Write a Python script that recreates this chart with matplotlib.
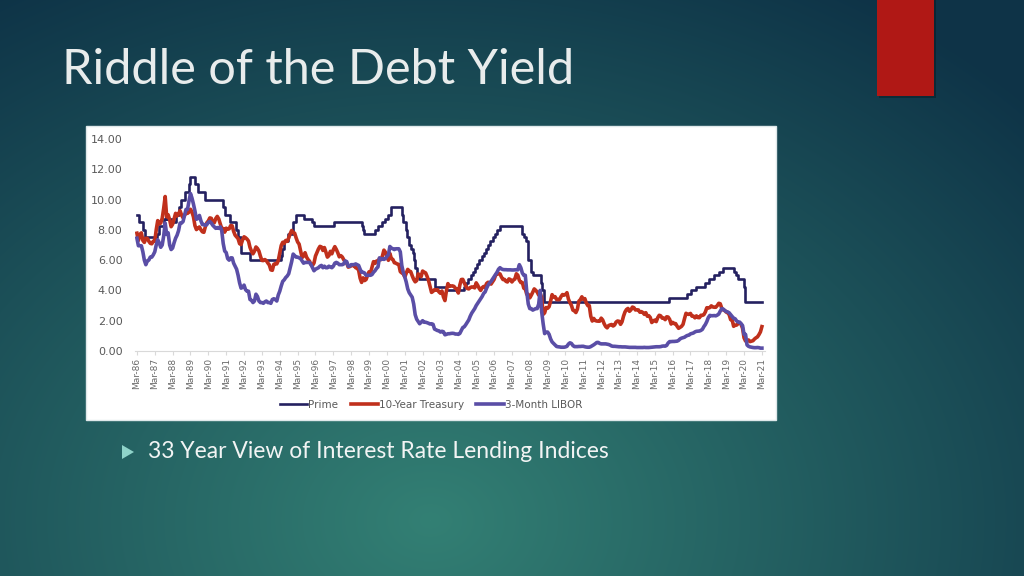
import numpy as np
import matplotlib
matplotlib.use("Agg")
import matplotlib.pyplot as plt
import matplotlib.patches as patches

# ---- data -------------------------------------------------------------
# Prime rate change points (decimal year, rate)
prime_dates = [1986.17, 1986.30, 1986.53, 1986.64, 1987.28, 1987.38, 1987.70, 1987.77,
               1987.82, 1988.12, 1988.38, 1988.54, 1988.62, 1988.88, 1989.08, 1989.15,
               1989.42, 1989.57, 1990.00, 1991.00, 1991.10, 1991.36, 1991.70, 1991.85,
               1991.98, 1992.50, 1994.23, 1994.30, 1994.38, 1994.62, 1994.88, 1995.08,
               1995.52, 1995.97, 1996.08, 1997.23, 1998.75, 1998.80, 1998.88, 1999.50,
               1999.65, 1999.87, 2000.08, 2000.22, 2000.38, 2001.01, 2001.08, 2001.22,
               2001.30, 2001.38, 2001.49, 2001.64, 2001.71, 2001.76, 2001.86, 2001.95,
               2002.85, 2003.48, 2004.50, 2004.62, 2004.72, 2004.86, 2004.96, 2005.09,
               2005.22, 2005.35, 2005.50, 2005.62, 2005.72, 2005.84, 2005.96, 2006.08,
               2006.22, 2006.35, 2006.49, 2007.72, 2007.83, 2007.95, 2008.06, 2008.08,
               2008.21, 2008.33, 2008.77, 2008.83, 2008.96, 2015.96, 2016.96, 2017.20,
               2017.46, 2017.96, 2018.22, 2018.46, 2018.74, 2018.97, 2019.58, 2019.72,
               2019.83, 2020.17, 2020.21, 2021.17]
prime_rates = [9.0, 8.5, 8.0, 7.5, 7.75, 8.25, 8.75, 9.0,
               8.75, 8.5, 9.0, 9.5, 10.0, 10.5, 11.0, 11.5,
               11.0, 10.5, 10.0, 9.5, 9.0, 8.5, 8.0, 7.5,
               6.5, 6.0, 6.25, 6.75, 7.25, 7.75, 8.5, 9.0,
               8.75, 8.5, 8.25, 8.5, 8.25, 8.0, 7.75, 8.0,
               8.25, 8.5, 8.75, 9.0, 9.5, 9.0, 8.5, 8.0,
               7.5, 7.0, 6.75, 6.5, 6.0, 5.5, 5.0, 4.75,
               4.25, 4.0, 4.25, 4.5, 4.75, 5.0, 5.25, 5.5,
               5.75, 6.0, 6.25, 6.5, 6.75, 7.0, 7.25, 7.5,
               7.75, 8.0, 8.25, 7.75, 7.5, 7.25, 6.5, 6.0,
               5.25, 5.0, 4.5, 4.0, 3.25, 3.5, 3.75, 4.0,
               4.25, 4.5, 4.75, 5.0, 5.25, 5.5, 5.25, 5.0,
               4.75, 4.25, 3.25, 3.25]

# monthly values, Mar-86 .. Mar-21
treasury = [
    7.78, 7.30, 7.71, 7.80, 7.30, 7.17, 7.45, 7.43, 7.25, 7.11,
    7.08, 7.25, 7.25, 8.02, 8.61, 8.40, 8.45, 8.76, 9.42, 10.2, 8.86, 8.99,
    8.67, 8.21, 8.37, 8.72, 9.09, 8.92, 9.06, 9.26, 8.98, 8.80, 8.96, 9.11,
    9.09, 9.17, 9.36, 9.18, 8.86, 8.28, 8.02, 8.11, 8.19, 8.01, 7.87, 7.84,
    8.21, 8.47, 8.59, 8.79, 8.76, 8.48, 8.47, 8.75, 8.89, 8.72, 8.39, 8.08,
    8.09, 7.85, 8.11, 8.04, 8.07, 8.28, 8.27, 7.90, 7.65, 7.53, 7.42, 7.09,
    7.03, 7.34, 7.54, 7.48, 7.39, 7.26, 6.84, 6.59, 6.42, 6.59, 6.87, 6.77,
    6.60, 6.26, 5.98, 5.97, 6.04, 5.96, 5.81, 5.68, 5.36, 5.33, 5.72, 5.77,
    5.75, 5.97, 6.48, 6.97, 7.18, 7.10, 7.30, 7.24, 7.46, 7.74, 7.96, 7.81,
    7.78, 7.47, 7.20, 7.06, 6.63, 6.17, 6.28, 6.49, 6.20, 6.04, 5.93, 5.71,
    5.65, 5.81, 6.27, 6.51, 6.74, 6.91, 6.87, 6.64, 6.83, 6.53, 6.20, 6.30,
    6.58, 6.42, 6.69, 6.89, 6.71, 6.49, 6.22, 6.30, 6.21, 6.03, 5.88, 5.81,
    5.54, 5.57, 5.65, 5.64, 5.65, 5.50, 5.46, 5.34, 4.81, 4.53, 4.83, 4.65,
    4.72, 5.00, 5.23, 5.18, 5.54, 5.90, 5.79, 5.94, 5.92, 6.11, 6.03, 6.28,
    6.66, 6.52, 6.26, 5.99, 6.44, 6.10, 6.05, 5.83, 5.80, 5.74, 5.72, 5.24,
    5.16, 5.10, 4.89, 5.14, 5.39, 5.28, 5.24, 4.97, 4.73, 4.57, 4.65, 5.09,
    5.04, 4.91, 5.28, 5.21, 5.16, 4.93, 4.65, 4.26, 3.87, 3.94, 4.05, 4.03,
    4.05, 3.90, 3.81, 3.96, 3.57, 3.33, 3.98, 4.45, 4.27, 4.29, 4.30, 4.27,
    4.15, 4.08, 3.83, 4.35, 4.72, 4.73, 4.50, 4.28, 4.13, 4.10, 4.19, 4.23,
    4.22, 4.17, 4.50, 4.34, 4.14, 4.00, 4.18, 4.26, 4.20, 4.46, 4.54, 4.47,
    4.42, 4.57, 4.72, 4.99, 5.11, 5.11, 5.09, 4.88, 4.72, 4.73, 4.60, 4.56,
    4.76, 4.72, 4.56, 4.69, 4.75, 5.10, 5.00, 4.67, 4.52, 4.53, 4.15, 4.10,
    3.74, 3.74, 3.51, 3.68, 3.88, 4.10, 4.01, 3.89, 3.69, 3.81, 3.53, 2.42,
    2.52, 2.87, 2.82, 2.93, 3.29, 3.72, 3.56, 3.59, 3.40, 3.39, 3.40, 3.59,
    3.73, 3.69, 3.73, 3.85, 3.42, 3.20, 3.01, 2.70, 2.65, 2.54, 2.76, 3.29,
    3.39, 3.58, 3.41, 3.46, 3.17, 3.00, 3.00, 2.30, 1.98, 2.15, 2.01, 1.98,
    1.97, 1.97, 2.17, 2.05, 1.80, 1.62, 1.53, 1.68, 1.72, 1.75, 1.65, 1.72,
    1.91, 1.98, 1.96, 1.76, 1.93, 2.30, 2.58, 2.74, 2.81, 2.62, 2.72, 2.90,
    2.86, 2.71, 2.72, 2.71, 2.56, 2.60, 2.54, 2.42, 2.53, 2.30, 2.33, 2.21,
    1.88, 1.98, 2.04, 1.94, 2.20, 2.36, 2.32, 2.17, 2.17, 2.07, 2.26, 2.24,
    2.09, 1.78, 1.89, 1.81, 1.81, 1.64, 1.50, 1.56, 1.63, 1.76, 2.14, 2.49,
    2.43, 2.42, 2.48, 2.30, 2.30, 2.19, 2.32, 2.21, 2.20, 2.36, 2.35, 2.40,
    2.58, 2.86, 2.84, 2.87, 2.98, 2.91, 2.89, 2.89, 3.00, 3.15, 3.12, 2.83,
    2.71, 2.68, 2.57, 2.53, 2.40, 2.07, 2.06, 1.63, 1.70, 1.71, 1.81, 1.86,
    1.76, 1.50, 0.87, 0.66, 0.67, 0.73, 0.62, 0.65, 0.68, 0.79, 0.87, 0.93,
    1.08, 1.26, 1.61]

libor = [
    7.45, 6.95, 6.95, 6.95, 6.55, 6.00, 5.70, 5.95, 6.00, 6.20,
    6.20, 6.35, 6.55, 7.00, 7.35, 7.15, 6.85, 7.00, 7.60, 8.45, 7.70, 7.80,
    7.00, 6.70, 6.80, 7.15, 7.45, 7.65, 7.95, 8.45, 8.45, 8.55, 8.95, 9.35,
    9.35, 9.90, 10.40, 10.10, 9.70, 9.25, 8.70, 8.75, 8.95, 8.60, 8.35, 8.35,
    8.30, 8.35, 8.50, 8.55, 8.45, 8.30, 8.20, 8.10, 8.15, 8.10, 8.20, 7.95,
    7.10, 6.60, 6.50, 6.10, 6.00, 6.15, 6.15, 5.80, 5.60, 5.40, 5.00, 4.50,
    4.15, 4.20, 4.35, 4.05, 3.95, 3.95, 3.40, 3.35, 3.20, 3.30, 3.75, 3.60,
    3.30, 3.20, 3.20, 3.15, 3.25, 3.30, 3.20, 3.20, 3.15, 3.40, 3.45, 3.40,
    3.30, 3.70, 3.95, 4.30, 4.60, 4.70, 4.85, 4.95, 5.10, 5.50, 5.90, 6.40,
    6.30, 6.20, 6.20, 6.15, 6.10, 5.95, 5.80, 5.85, 5.85, 5.85, 5.85, 5.70,
    5.50, 5.30, 5.40, 5.45, 5.50, 5.60, 5.65, 5.50, 5.60, 5.50, 5.50, 5.60,
    5.55, 5.50, 5.60, 5.80, 5.85, 5.80, 5.70, 5.70, 5.70, 5.75, 5.95, 5.90,
    5.60, 5.60, 5.70, 5.70, 5.70, 5.75, 5.70, 5.65, 5.40, 5.20, 5.20, 5.15,
    5.00, 5.00, 5.00, 5.00, 5.05, 5.20, 5.30, 5.45, 5.55, 6.15, 6.05, 6.10,
    6.05, 6.10, 6.25, 6.35, 6.90, 6.80, 6.75, 6.70, 6.75, 6.75, 6.75, 6.55,
    5.65, 5.20, 4.90, 4.55, 4.10, 3.85, 3.70, 3.55, 3.10, 2.40, 2.10, 1.95,
    1.80, 1.90, 2.00, 1.90, 1.90, 1.87, 1.83, 1.78, 1.80, 1.76, 1.45, 1.40,
    1.35, 1.33, 1.25, 1.30, 1.27, 1.07, 1.10, 1.14, 1.14, 1.16, 1.17, 1.16,
    1.12, 1.12, 1.10, 1.16, 1.35, 1.55, 1.60, 1.74, 1.90, 2.05, 2.30, 2.50,
    2.65, 2.80, 3.00, 3.15, 3.30, 3.45, 3.60, 3.80, 3.90, 4.15, 4.35, 4.50,
    4.60, 4.75, 4.90, 5.05, 5.20, 5.40, 5.50, 5.42, 5.38, 5.37, 5.37, 5.36,
    5.36, 5.36, 5.35, 5.35, 5.36, 5.36, 5.36, 5.70, 5.50, 5.15, 5.00, 5.00,
    3.90, 3.10, 2.80, 2.80, 2.70, 2.75, 2.80, 2.80, 3.10, 4.00, 2.60, 1.80,
    1.15, 1.25, 1.25, 1.10, 0.80, 0.60, 0.50, 0.40, 0.30, 0.28, 0.27, 0.25,
    0.25, 0.25, 0.27, 0.31, 0.46, 0.54, 0.50, 0.36, 0.29, 0.29, 0.29, 0.30,
    0.30, 0.31, 0.31, 0.28, 0.26, 0.25, 0.25, 0.29, 0.35, 0.41, 0.48, 0.56,
    0.57, 0.50, 0.47, 0.47, 0.47, 0.47, 0.45, 0.43, 0.39, 0.33, 0.31, 0.31,
    0.30, 0.29, 0.28, 0.28, 0.27, 0.27, 0.27, 0.26, 0.25, 0.24, 0.24, 0.24,
    0.24, 0.24, 0.23, 0.23, 0.23, 0.23, 0.23, 0.24, 0.23, 0.23, 0.23, 0.24,
    0.25, 0.26, 0.27, 0.28, 0.28, 0.28, 0.29, 0.32, 0.33, 0.32, 0.37, 0.53,
    0.62, 0.62, 0.63, 0.63, 0.64, 0.65, 0.70, 0.80, 0.85, 0.88, 0.91, 0.98,
    1.03, 1.05, 1.13, 1.16, 1.19, 1.26, 1.30, 1.31, 1.32, 1.36, 1.43, 1.61,
    1.75, 1.95, 2.21, 2.35, 2.33, 2.33, 2.34, 2.32, 2.37, 2.44, 2.63, 2.79,
    2.77, 2.67, 2.61, 2.58, 2.52, 2.40, 2.28, 2.16, 2.13, 1.99, 1.91, 1.91,
    1.81, 1.68, 1.10, 1.10, 0.40, 0.31, 0.27, 0.25, 0.23, 0.22, 0.22, 0.23,
    0.22, 0.19, 0.19]

tick_years = list(range(1986, 2022))
tick_labels = ["Mar-%02d" % (y % 100) for y in tick_years]

months = 1986 + 2 / 12 + np.arange(len(treasury)) / 12

# ---- figure -----------------------------------------------------------
W, H = 1024, 576
fig = plt.figure(figsize=(W / 100, H / 100), dpi=100)

# slide background: radial teal gradient
bg = fig.add_axes([0, 0, 1, 1])
bg.axis("off")
yy, xx = np.mgrid[0:H, 0:W]
r = np.sqrt(((xx - 430) / 820) ** 2 + ((yy - 520) / 620) ** 2)
r = np.clip(r, 0, 1)[..., None]
inner = np.array([0x33, 0x80, 0x74]) / 255
outer = np.array([0x0e, 0x33, 0x47]) / 255
img = inner * (1 - r) + outer * r
bg.imshow(img, extent=[0, W, H, 0], aspect="auto")
bg.set_xlim(0, W)
bg.set_ylim(H, 0)

# red accent block with soft shadow
bg.add_patch(patches.Rectangle((879, -2), 57, 100, color="black", alpha=0.25, lw=0))
bg.add_patch(patches.Rectangle((877, -2), 57, 98, color="#b01815", lw=0))

# title and bullet
bg.text(62, 70, "Riddle of the Debt Yield", fontsize=35, color="#e8ecec",
        family="Lato", va="center", ha="left")
bg.add_patch(patches.Polygon([(122, 445), (122, 459), (134, 452)], color="#8fd3c9", lw=0))
bg.text(148, 452, "33 Year View of Interest Rate Lending Indices", fontsize=16.5,
        color="#f2f4f4", family="Lato", va="center", ha="left")

# white chart panel
bg.add_patch(patches.Rectangle((86, 126), 690, 294, facecolor="white",
                               edgecolor="#dfe8ea", lw=1))

# chart axes
ax = fig.add_axes([135 / W, 225 / H, 630 / W, 212 / H])
ax.set_facecolor("white")
ax.plot(prime_dates, prime_rates, drawstyle="steps-post", color="#242160", lw=1.9,
        label="Prime")
ax.plot(months, treasury, color="#c0301c", lw=2.6, label="10-Year Treasury")
ax.plot(months, libor, color="#5a4ea6", lw=2.6, label="3-Month LIBOR")

ax.set_xlim(1986.06, 2021.34)
ax.set_ylim(0, 14)
ax.set_yticks(np.arange(0, 15, 2))
ax.set_yticklabels(["%.2f" % v for v in np.arange(0, 15, 2)])
ax.set_xticks([y + 2 / 12 for y in tick_years])
ax.set_xticklabels(tick_labels, rotation=90)
ax.tick_params(axis="y", length=0, labelsize=8, labelcolor="#595959", pad=9)
ax.tick_params(axis="x", length=3, color="#d9d9d9", labelsize=6.5,
               labelcolor="#6a6a6a", pad=2)
for s in ["top", "right", "left"]:
    ax.spines[s].set_visible(False)
ax.spines["bottom"].set_color("#d9d9d9")

fig.legend(loc="center", bbox_to_anchor=(431 / W, 1 - 405 / H), ncol=3,
           frameon=False, fontsize=7.5, handlelength=2.6, columnspacing=1.2,
           handletextpad=0.1, labelcolor="#595959")

fig.savefig("out.png", dpi=100)
